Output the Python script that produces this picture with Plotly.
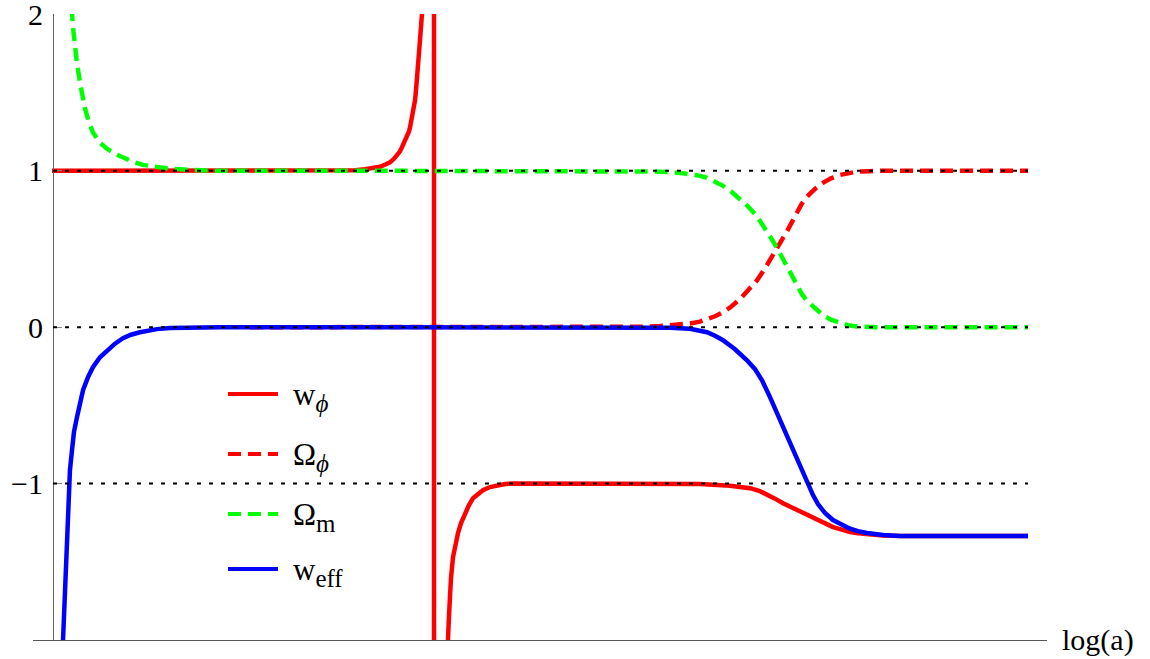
import plotly.graph_objects as go

# values (x in arbitrary log(a) units, 0..100)
w_phi_x = [-0.1, 15.1, 25.3, 29.44, 30.97, 32.0, 32.82, 33.54, 34.15, 34.56, 34.97, 35.28,
           35.59, 35.79, 36.1, 36.31, 36.51, 36.62, 36.82, 36.92, 37.03, 37.13, 37.23,
           37.33, 37.44, 37.54, 37.64, 37.74, 37.85, 37.95, 39.08, 39.08,
           40.41, 40.51, 40.62, 40.72, 40.82, 41.03, 41.23, 41.54, 41.85, 42.26, 42.67,
           43.08, 43.59, 44.1, 44.82, 45.54, 46.36, 47.38, 48.92, 56.1, 66.36, 69.44,
           71.49, 72.51, 73.23, 74.05, 74.87, 75.79, 76.62, 77.44, 78.36, 79.18, 80.0,
           80.92, 81.74, 82.56, 83.49, 84.31, 85.13, 86.87, 92.0, 100.0]
w_phi_y = [1.0, 1.0, 1.0, 1.0, 1.004, 1.01, 1.016, 1.026, 1.042, 1.054, 1.077, 1.099,
           1.125, 1.15, 1.188, 1.214, 1.252, 1.278, 1.335, 1.367, 1.406, 1.45, 1.514,
           1.578, 1.661, 1.738, 1.834, 1.917, 2.006, 2.089, 2.6, -2.6,
           -2.064, -2.0, -1.84, -1.712, -1.604, -1.47, -1.393, -1.316, -1.252, -1.188,
           -1.137, -1.093, -1.064, -1.042, -1.022, -1.01, -1.002, -1.0, -1.0, -1.0,
           -1.003, -1.013, -1.029, -1.048, -1.067, -1.096, -1.125, -1.153, -1.182, -1.208,
           -1.233, -1.256, -1.278, -1.294, -1.31, -1.318, -1.324, -1.328, -1.331, -1.335,
           -1.335, -1.335]

omega_phi_x = [20.2, 56.1, 60.21, 62.26, 64.31, 65.33, 66.36, 67.08, 67.9, 68.72, 69.54,
               70.46, 71.28, 72.21, 73.03, 73.85, 74.56, 75.28, 76.1, 76.82, 77.33, 78.15,
               78.97, 79.79, 80.72, 81.54, 82.46, 83.79, 84.82, 100.0]
omega_phi_y = [0.0, 0.0, 0.003, 0.008, 0.016, 0.024, 0.036, 0.051, 0.07, 0.096, 0.131,
               0.179, 0.233, 0.3, 0.377, 0.46, 0.53, 0.613, 0.709, 0.792, 0.834, 0.885,
               0.923, 0.952, 0.974, 0.987, 0.995, 0.998, 1.0, 1.0]

omega_m_x = [1.74, 1.95, 2.1, 2.26, 2.46, 2.77, 3.28, 3.69, 4.1, 4.82, 5.54, 6.36, 7.18,
             8.21, 9.23, 10.46, 11.69, 14.05, 17.13, 35.59, 60.21, 62.26, 64.31, 65.33,
             66.36, 67.08, 67.9, 68.72, 69.54, 70.46, 71.28, 72.21, 73.03, 73.85, 74.56,
             75.28, 76.1, 76.82, 77.33, 78.15, 78.97, 79.79, 80.72, 81.54, 82.46, 83.79,
             84.82, 100.0]
omega_m_y = [2.038, 2.006, 1.891, 1.789, 1.687, 1.565, 1.399, 1.31, 1.246, 1.179, 1.141,
             1.109, 1.083, 1.058, 1.038, 1.024, 1.016, 1.006, 1.0, 1.0, 0.997, 0.995,
             0.987, 0.981, 0.968, 0.955, 0.933, 0.904, 0.869, 0.821, 0.773, 0.709, 0.633,
             0.55, 0.473, 0.39, 0.294, 0.211, 0.169, 0.118, 0.077, 0.048, 0.026, 0.013,
             0.005, 0.001, 0.0, 0.0]

w_eff_x = [1.03, 1.13, 1.23, 1.33, 1.44, 1.54, 1.64, 1.74, 1.95, 2.15, 2.46, 2.77, 3.08,
           3.59, 4.1, 4.82, 5.54, 6.36, 7.18, 8.0, 8.92, 9.95, 10.67, 12.0, 14.05, 17.13,
           35.6, 56.1, 60.2, 63.28, 65.33, 66.36, 67.08, 67.9, 68.72, 69.95, 71.18, 72.0,
           72.72, 73.54, 74.26, 74.87, 75.59, 76.31, 76.92, 77.44, 77.95, 78.46, 79.18,
           80.0, 80.92, 81.74, 82.56, 83.49, 85.13, 86.87, 100.0]
w_eff_y = [-2.0, -1.821, -1.642, -1.457, -1.29, -1.131, -1.003, -0.914, -0.786, -0.671,
           -0.575, -0.486, -0.403, -0.319, -0.256, -0.192, -0.147, -0.105, -0.07, -0.048,
           -0.032, -0.019, -0.012, -0.005, -0.002, 0.0, 0.0, 0.0, 0.0, -0.003, -0.01,
           -0.019, -0.032, -0.054, -0.083, -0.141, -0.211, -0.268, -0.339, -0.447, -0.55,
           -0.645, -0.748, -0.85, -0.939, -1.01, -1.073, -1.131, -1.188, -1.233, -1.265,
           -1.288, -1.304, -1.316, -1.329, -1.335, -1.335]

ref_levels = [1, 0, -1]
y_ticks = [-1, 0, 1, 2]
y_ticktext = ["\u22121", "0", "1", "2"]

RED, GREEN, BLUE = "#ff0000", "#00ff00", "#0000ff"
serif = "Liberation Serif"

fig = go.Figure()
fig.add_trace(go.Scatter(x=w_phi_x, y=w_phi_y, mode="lines",
                         line=dict(color=RED, width=4.5)))
fig.add_trace(go.Scatter(x=omega_phi_x, y=omega_phi_y, mode="lines",
                         line=dict(color=RED, width=4.5, dash="13px,7px")))
fig.add_trace(go.Scatter(x=omega_m_x, y=omega_m_y, mode="lines",
                         line=dict(color=GREEN, width=4.5, dash="13px,7px")))
fig.add_trace(go.Scatter(x=w_eff_x, y=w_eff_y, mode="lines",
                         line=dict(color=BLUE, width=4.5)))

# dotted guide lines on top
for lv in ref_levels:
    fig.add_shape(type="line", x0=0, x1=100, y0=lv, y1=lv, xref="x", yref="y",
                  layer="above", line=dict(color="black", width=2, dash="4px,8px"))

# hand-drawn legend
sub = '<sub><span style="font-size:25px">%s</span></sub>'
legend_items = [
    ("w" + sub % "<i>\u03d5</i>", RED, "solid", 0.393),
    ("\u03a9" + sub % "<i>\u03d5</i>", RED, "13px,7px", 0.297),
    ("\u03a9" + sub % "m", GREEN, "13px,7px", 0.2013),
    ("w" + sub % "eff", BLUE, "solid", 0.1134),
]
for label, col, dsh, yy in legend_items:
    fig.add_shape(type="line", xref="paper", yref="paper", x0=0.1923, x1=0.2416,
                  y0=yy, y1=yy, line=dict(color=col, width=4, dash=dsh))
    fig.add_annotation(x=0.2544, y=yy - 0.005, xref="paper", yref="paper", text=label,
                       showarrow=False, xanchor="left", yanchor="middle",
                       font=dict(family=serif, size=31, color="black"))

fig.add_annotation(x=1.0128, y=0.0, xref="paper", yref="paper", text="log(a)",
                   showarrow=False, xanchor="left", yanchor="middle",
                   font=dict(family=serif, size=30, color="black"))

fig.update_layout(
    width=1150, height=659, autosize=False,
    margin=dict(l=33, r=103, t=14, b=19),
    paper_bgcolor="white", plot_bgcolor="white",
    showlegend=False,
    xaxis=dict(range=[-2.05, 101.95], showgrid=False, zeroline=False, showticklabels=False,
               ticks="", showline=True, linecolor="#555555", linewidth=1, automargin=False),
    yaxis=dict(range=[-2, 2.003], anchor="free", position=0.0197, showgrid=False,
               zeroline=False, showline=True, linecolor="#666666", linewidth=1,
               tickvals=y_ticks, ticktext=y_ticktext, ticks="inside", ticklen=8,
               tickcolor="#888888", ticklabelstandoff=4, ticklabeloverflow="allow",
               automargin=False,
               tickfont=dict(family=serif, size=30, color="black")),
)

fig.write_html("out.html", config={"displayModeBar": False},
               post_script="document.body.style.margin='0';document.body.style.overflow='hidden';")
